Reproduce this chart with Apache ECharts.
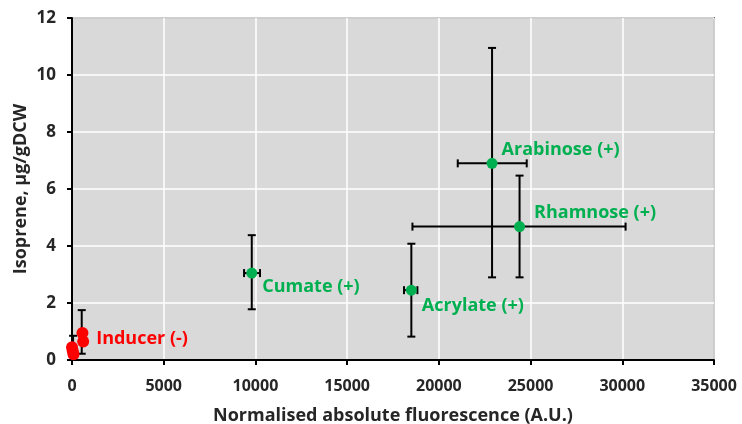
<!DOCTYPE html>
<html>
<head>
<meta charset="utf-8">
<script src="https://cdn.jsdelivr.net/npm/echarts@6/dist/echarts.min.js"></script>
<style>html,body{margin:0;padding:0;background:#fff}#c{width:742px;height:424px}</style>
</head>
<body>
<div id="c"></div>
<script>
// ---- data ----
var greenNames = ['Cumate (+)', 'Acrylate (+)', 'Arabinose (+)', 'Rhamnose (+)'];
var greenX     = [9800, 18500, 22900, 24400];
var greenY     = [3.05, 2.45, 6.9, 4.68];
var greenXLow  = [9380, 18100, 21030, 18560];
var greenXHigh = [10250, 18830, 24790, 30180];
var greenYLow  = [1.78, 0.82, 2.9, 2.9];
var greenYHigh = [4.38, 4.08, 10.95, 6.47];

var redX = [0, 40, 80, 570, 610];
var redY = [0.45, 0.32, 0.2, 0.95, 0.65];
var redErrX    = [60, 530];
var redErrY    = [0.5, 0.95];
var redErrYLow = [0.12, 0.22];
var redErrYHigh= [0.85, 1.75];
var redLabel = 'Inducer (-)';
var redLabelIndex = 4;

var xTicks = [0, 5000, 10000, 15000, 20000, 25000, 30000, 35000];
var yTicks = [0, 2, 4, 6, 8, 10, 12];
var xTitle = 'Normalised absolute fluorescence (A.U.)';
var yTitle = 'Isoprene, µg/gDCW';

var GREEN = '#00b050', RED = '#ff0000';
var FONT = 'Open Sans';

var greenLabelOffsets = [[0, 14], [0, 16], [-1, -13], [4, -14]];

var greenPts = greenX.map(function (x, i) {
  return {
    value: [x, greenY[i]],
    label: { show: true, formatter: greenNames[i], position: 'right', distance: 5, offset: greenLabelOffsets[i] }
  };
});
var redPts = redX.map(function (x, i) {
  var d = { value: [x, redY[i]] };
  if (i === redLabelIndex) d.label = { show: true, formatter: redLabel, position: 'right', distance: 5, offset: [2, -3] };
  return d;
});
var errData = greenX.map(function (x, i) {
  return [x, greenY[i], greenXLow[i], greenXHigh[i], greenYLow[i], greenYHigh[i]];
});
redErrX.forEach(function (x, i) {
  errData.push([x, redErrY[i], x, x, redErrYLow[i], redErrYHigh[i]]);
});

function renderErr(params, api) {
  var x = api.value(0), y = api.value(1);
  var xl = api.value(2), xh = api.value(3), yl = api.value(4), yh = api.value(5);
  var cap = 4;
  var st = { stroke: '#000', lineWidth: 2 };
  var ch = [];
  var pyl = api.coord([x, yl]), pyh = api.coord([x, yh]);
  if (yh > yl) {
    ch.push({ type: 'line', shape: { x1: pyl[0], y1: pyl[1], x2: pyh[0], y2: pyh[1] }, style: st });
    ch.push({ type: 'line', shape: { x1: pyl[0] - cap, y1: pyl[1], x2: pyl[0] + cap, y2: pyl[1] }, style: st });
    ch.push({ type: 'line', shape: { x1: pyh[0] - cap, y1: pyh[1], x2: pyh[0] + cap, y2: pyh[1] }, style: st });
  }
  if (xh > xl) {
    var pxl = api.coord([xl, y]), pxh = api.coord([xh, y]);
    ch.push({ type: 'line', shape: { x1: pxl[0], y1: pxl[1], x2: pxh[0], y2: pxh[1] }, style: st });
    ch.push({ type: 'line', shape: { x1: pxl[0], y1: pxl[1] - cap, x2: pxl[0], y2: pxl[1] + cap }, style: st });
    ch.push({ type: 'line', shape: { x1: pxh[0], y1: pxh[1] - cap, x2: pxh[0], y2: pxh[1] + cap }, style: st });
  }
  return { type: 'group', children: ch };
}

var chart = echarts.init(document.getElementById('c'), null, { renderer: 'canvas' });
chart.setOption({
  animation: false,
  grid: { left: 72, top: 18, right: 28, bottom: 64, show: true, backgroundColor: '#d9d9d9', borderColor: '#000', borderWidth: 1.5,
    containLabel: false, outerBoundsMode: 'none' },
  xAxis: {
    type: 'value', min: xTicks[0], max: xTicks[xTicks.length - 1], interval: 5000,
    name: xTitle, nameLocation: 'middle', nameGap: 47, nameMoveOverlap: false,
    nameTextStyle: { fontFamily: FONT, fontWeight: 'bold', fontSize: 18, color: '#262626' },
    axisLine: { lineStyle: { color: '#000', width: 2 } },
    axisTick: { show: true, length: 5, lineStyle: { color: '#000', width: 2 } },
    axisLabel: { fontFamily: FONT, fontWeight: 'bold', fontSize: 16, color: '#262626', margin: 18,
      formatter: function (v) { return String(v); } },
    splitLine: { show: true, lineStyle: { color: '#ffffff', width: 1.5 } }
  },
  yAxis: {
    type: 'value', min: yTicks[0], max: yTicks[yTicks.length - 1], interval: 2,
    name: yTitle, nameLocation: 'middle', nameGap: 42, nameRotate: 90, nameMoveOverlap: false,
    nameTextStyle: { fontFamily: FONT, fontWeight: 'bold', fontSize: 18, color: '#262626' },
    axisLine: { lineStyle: { color: '#000', width: 2 } },
    axisTick: { show: true, length: 5, lineStyle: { color: '#000', width: 2 } },
    axisLabel: { fontFamily: FONT, fontWeight: 'bold', fontSize: 17, color: '#262626', margin: 16,
      formatter: function (v) { return String(v); } },
    splitLine: { show: true, lineStyle: { color: '#ffffff', width: 1.5 } }
  },
  series: [
    { type: 'custom', renderItem: renderErr, data: errData, encode: { x: 0, y: 1 }, z: 1, silent: true },
    {
      type: 'scatter', data: greenPts, symbolSize: 11, z: 3,
      itemStyle: { color: GREEN, opacity: 1 },
      label: { color: GREEN, fontFamily: FONT, fontWeight: 'bold', fontSize: 18 }
    },
    {
      type: 'scatter', data: redPts, symbolSize: 12, z: 3,
      itemStyle: { color: RED, opacity: 1 },
      label: { color: RED, fontFamily: FONT, fontWeight: 'bold', fontSize: 18 }
    }
  ]
});
</script>
</body>
</html>
